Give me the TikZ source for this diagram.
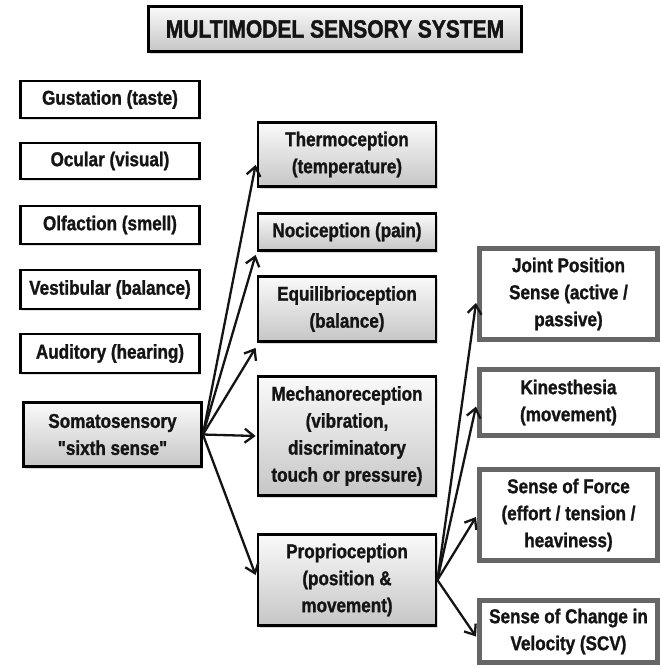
\documentclass[tikz,border=0pt]{standalone}
\usepackage{fontspec}
\setmainfont{Liberation Sans}[Ligatures=TeXOff, FakeStretch=0.855, BoldFeatures={FakeBold=1.2}]
\newfontfamily\headfont{Liberation Sans}[Ligatures=TeXOff, FakeStretch=0.84, BoldFeatures={FakeBold=1.4}]
\usetikzlibrary{arrows.meta,shadows}

\begin{document}
\begin{tikzpicture}[x=1pt,y=-1pt,
  txt/.style={font=\bfseries\fontsize{20}{27}\selectfont, align=center, text=black!92, inner sep=0pt},
  plainbox/.style={txt, draw=black, line width=2.8pt, fill=white, minimum width=179pt,
    drop shadow={opacity=0.25, shadow xshift=1pt, shadow yshift=-2pt}},
  shadebox/.style={txt, draw=black, line width=2.8pt, top color=gray!4, bottom color=gray!45,
    drop shadow={opacity=0.3, shadow xshift=1.5pt, shadow yshift=-2.5pt}},
  greybox/.style={txt, draw=gray!80!black, line width=5pt, fill=white, minimum width=178pt},
  link/.style={line width=2.3pt, draw=black!92, -{Straight Barb[length=9pt,width=14pt,line width=2.3pt]}}
]
\useasboundingbox (0,0) rectangle (661,667);

% heading
\node[shadebox, minimum width=373pt, minimum height=45pt,
      font=\headfont\bfseries\fontsize{25}{30}\selectfont] (title) at (335,29) {MULTIMODEL SENSORY SYSTEM};

% the five classic senses and the somatosensory system
\node[plainbox, minimum height=37pt] (gust) at (110,99.5) {Gustation (taste)};
\node[plainbox, minimum height=36pt] (ocul) at (110,161) {Ocular (visual)};
\node[plainbox, minimum height=38pt] (olf)  at (110,225) {Olfaction (smell)};
\node[plainbox, minimum height=39pt] (vest) at (110,289.5) {Vestibular (balance)};
\node[plainbox, minimum height=39pt] (aud)  at (110,353.5) {Auditory (hearing)};
\node[shadebox, minimum width=178pt, minimum height=64pt] (soma) at (112.5,434.5) {Somatosensory\\"sixth sense"};

% somatosensory sub-senses
\node[shadebox, minimum width=178pt, minimum height=64pt]  (thermo) at (347,154.5) {Thermoception\\(temperature)};
\node[shadebox, minimum width=178pt, minimum height=37pt]  (noci)   at (347,232) {Nociception (pain)};
\node[shadebox, minimum width=178pt, minimum height=65pt]  (equi)   at (347,309) {Equilibrioception\\(balance)};
\node[shadebox, minimum width=178pt, minimum height=119pt] (mech)   at (347,436) {Mechanoreception\\(vibration,\\discriminatory\\touch or pressure)};
\node[shadebox, minimum width=178pt, minimum height=91pt]  (prop)   at (347,580) {Proprioception\\(position \&\\movement)};

% proprioceptive components
\node[greybox, minimum height=91pt] (joint) at (568.5,294) {Joint Position\\Sense (active /\\passive)};
\node[greybox, minimum height=66pt] (kin)   at (568.5,402.5) {Kinesthesia\\(movement)};
\node[greybox, minimum height=91pt] (force) at (568.5,515) {Sense of Force\\(effort / tension /\\heaviness)};
\node[greybox, minimum height=62pt] (scv)   at (568.5,631.5) {Sense of Change in\\Velocity (SCV)};

% connectors from the somatosensory box
\draw[link] (soma.east) -- ([yshift=23pt,xshift=-1pt]thermo.south west);
\draw[link] (soma.east) -- ([yshift=-3pt,xshift=-1pt]noci.south west);
\draw[link] (soma.east) -- ([yshift=-5pt,xshift=-1pt]equi.south west);
\draw[link] (soma.east) -- ([xshift=-1pt]mech.west);
\draw[link] (soma.east) -- ([yshift=5pt,xshift=-1pt]prop.west);

% connectors from proprioception
\draw[link] (prop.east) -- ([yshift=-9pt,xshift=-1pt]joint.west);
\draw[link] (prop.east) -- ([yshift=-4pt,xshift=-1pt]kin.west);
\draw[link] (prop.east) -- ([yshift=-2pt,xshift=-1pt]force.west);
\draw[link] (prop.east) -- ([yshift=-5pt,xshift=-1pt]scv.west);
\end{tikzpicture}
\end{document}
